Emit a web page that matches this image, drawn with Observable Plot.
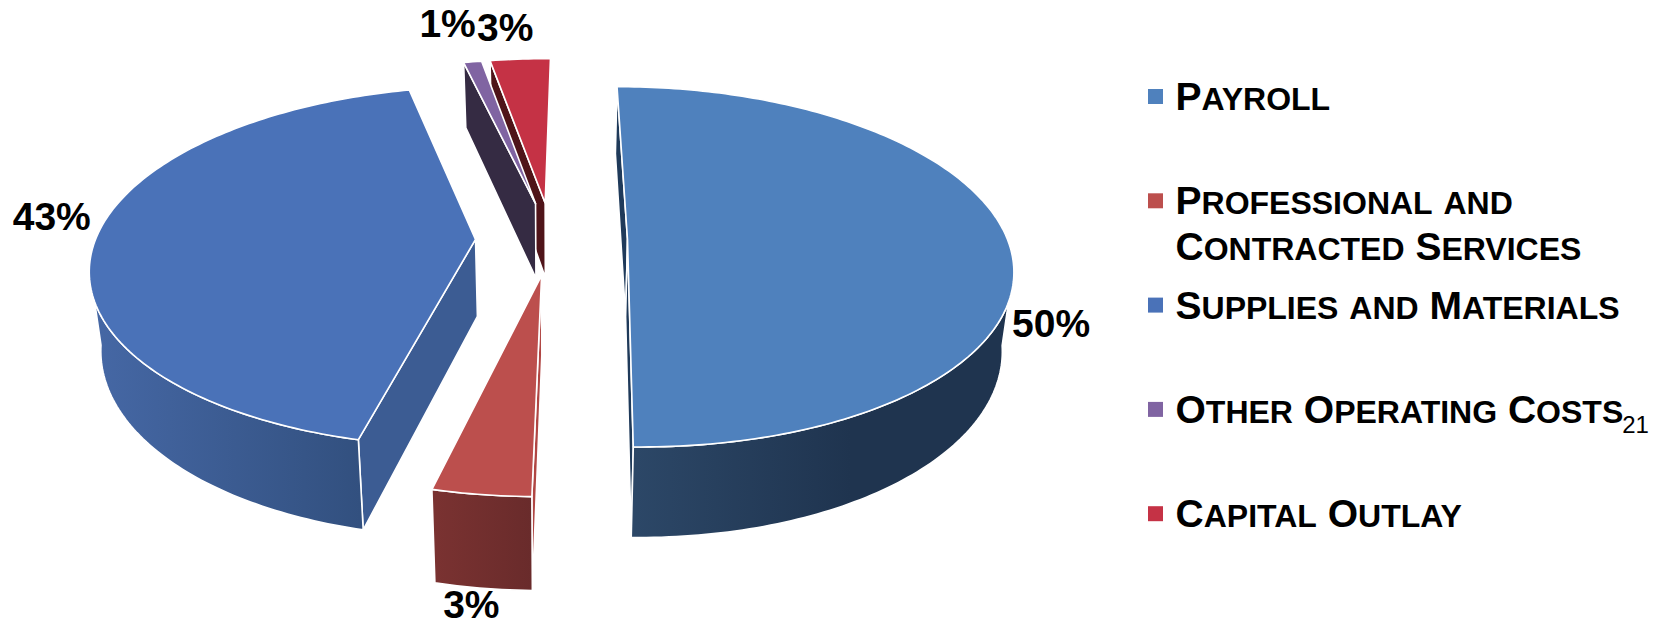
<!DOCTYPE html>
<html><head><meta charset="utf-8">
<script src="https://cdn.jsdelivr.net/npm/d3@7"></script>
<script src="https://cdn.jsdelivr.net/npm/@observablehq/plot@0.6"></script>
<style>html,body{margin:0;padding:0;background:#fff;overflow:hidden}svg{display:block}</style>
</head><body><div id="chart"></div>
<script>
const categories = ["Payroll", "Professional and\nContracted Services", "Supplies and Materials", "Other Operating Costs", "Capital Outlay"];
const shares = [50.3, 3.49, 42.56, 0.9, 3.0];
const topColors = ["#4f81bd", "#bc4f4d", "#4a72b8", "#8064a2", "#c53245"];
const pageNumber = ["21"];

// pie drawing settings
const view = {cx: 551, cy: 239, a: 380, b: 176, p: 0.15, s: 0.975, h: 77, start: -0.1};
const explode = [0.2, 0.2, 0.2, 0.215, 0.215];
const radialFill = ["#1f3a5a", "#b04643", "#3c5c93", "#352b43", "#4f1419"];
const wallStops = [["#2c4767", "#1f344f", 635, 850], ["#7a3231", "#692b2b", 433, 533], ["#4567a4", "#32507f", 100, 360], ["#352b43", "#352b43", 0, 1], ["#4f1419", "#4f1419", 0, 1]];
const endWall = [true, false, false, false, false];
const drawOrder = [0, 4, 3, 2, 1];
const labelShift = [[43, 83], [-10, 111], [-44, -21], [-25, -37], [-15, -31]];

const rad = d => d * Math.PI / 180;
function project(X, Z, lower) {
  const d = 1 + view.p * Z;
  let x = view.cx + view.a * X / d, y = view.cy - view.b * Z / d;
  if (lower) { x = view.cx + view.s * (x - view.cx); y += view.h / d; }
  return {x, y};
}
let acc = view.start;
const slices = shares.map((v, i) => {
  const t0 = acc, t1 = acc + v * 3.6; acc = t1;
  const mid = (t0 + t1) / 2;
  return {i, t0, t1, mid, ex: explode[i] * Math.sin(rad(mid)), ez: explode[i] * Math.cos(rad(mid))};
});
const rimAt = (s, t, lower) => project(s.ex + Math.sin(rad(t)), s.ez + Math.cos(rad(t)), lower);
const apexAt = (s, lower) => project(s.ex, s.ez, lower);
function arcBetween(s, a, b, lower) {
  const n = Math.max(2, Math.ceil(b - a)), out = [];
  for (let k = 0; k <= n; k++) out.push(rimAt(s, a + (b - a) * k / n, lower));
  return out;
}
// the outer wall is only seen between the two side extremes of the rim
const sideAngle = Math.acos(-view.p) * 180 / Math.PI;
const face = (pts, fill) => Plot.line(pts, {x: "x", y: "y", curve: "linear-closed", fill, stroke: "#fff", strokeWidth: 1.6, strokeLinejoin: "round"});
const faces = [];
for (const i of drawOrder) {
  const s = slices[i];
  const radial = t => [rimAt(s, t, false), apexAt(s, false), apexAt(s, true), rimAt(s, t, true)];
  faces.push(face(radial(s.t0), radialFill[i]));
  if (endWall[i]) faces.push(face(radial(s.t1), radialFill[i]));
  const a = Math.max(s.t0, sideAngle), b = Math.min(s.t1, 360 - sideAngle);
  if (b > a) faces.push(face([...arcBetween(s, a, b, false), ...arcBetween(s, a, b, true).reverse()], `url(#wall${i})`));
  faces.push(face([apexAt(s, false), ...arcBetween(s, s.t0, s.t1, false)], topColors[i]));
}
const gradients = () => {
  const defs = d3.create("svg:defs");
  wallStops.forEach(([c0, c1, x1, x2], i) => {
    const g = defs.append("linearGradient").attr("id", `wall${i}`).attr("gradientUnits", "userSpaceOnUse")
      .attr("x1", x1).attr("x2", x2).attr("y1", 0).attr("y2", 0);
    g.append("stop").attr("offset", 0).attr("stop-color", c0);
    g.append("stop").attr("offset", 1).attr("stop-color", c1);
  });
  return defs.node();
};
const labels = slices.map(s => {
  const p = rimAt(s, s.mid, false);
  return {x: p.x + labelShift[s.i][0], y: p.y + labelShift[s.i][1], text: Math.round(shares[s.i]) + "%"};
});
const legendLayout = {x: 1155, textX: 1175, top: 96, step: 104.3};
const legend = categories.map((c, i) => ({c, color: topColors[i], y: legendLayout.top + i * legendLayout.step}));
const font = "Liberation Sans, Arial, sans-serif";
const plot = Plot.plot({
  width: 1663, height: 625, margin: 0,
  x: {domain: [0, 1663], range: [0, 1663], axis: null},
  y: {domain: [0, 625], range: [0, 625], axis: null},
  marks: [
    gradients,
    ...faces,
    Plot.text(labels, {x: "x", y: "y", text: "text", fontSize: 39, fontWeight: 700, fontFamily: font, fill: "#000"}),
    Plot.dot(legend, {x: legendLayout.x, y: "y", symbol: "square", r: 8.46, fill: "color", stroke: "none"}),
    Plot.text(legend, {x: legendLayout.textX, y: d => d.y - 19, text: "c", textAnchor: "start", lineAnchor: "top", lineHeight: 1.18, fontSize: 39, fontWeight: 700, fontFamily: font, fill: "#000", className: "legend-text"}),
    Plot.text(pageNumber, {x: 1635, y: 432, text: d => d, lineAnchor: "bottom", fontSize: 24, fontFamily: font, fill: "#000"})
  ]
});
// small caps: lower-case runs are set smaller and upper-cased
plot.querySelectorAll(".legend-text text").forEach(t => {
  const walker = document.createTreeWalker(t, NodeFilter.SHOW_TEXT);
  const nodes = []; while (walker.nextNode()) nodes.push(walker.currentNode);
  for (const n of nodes) {
    const runs = n.nodeValue.match(/[a-z]+|[^a-z]+/g) || [];
    const frag = document.createDocumentFragment();
    for (const r of runs) {
      if (/[a-z]/.test(r)) {
        const sp = document.createElementNS("http://www.w3.org/2000/svg", "tspan");
        sp.setAttribute("font-size", 32); sp.style.textTransform = "uppercase"; sp.textContent = r;
        frag.appendChild(sp);
      } else frag.appendChild(document.createTextNode(r));
    }
    n.parentNode.replaceChild(frag, n);
  }
});
document.getElementById("chart").appendChild(plot);
</script></body></html>
